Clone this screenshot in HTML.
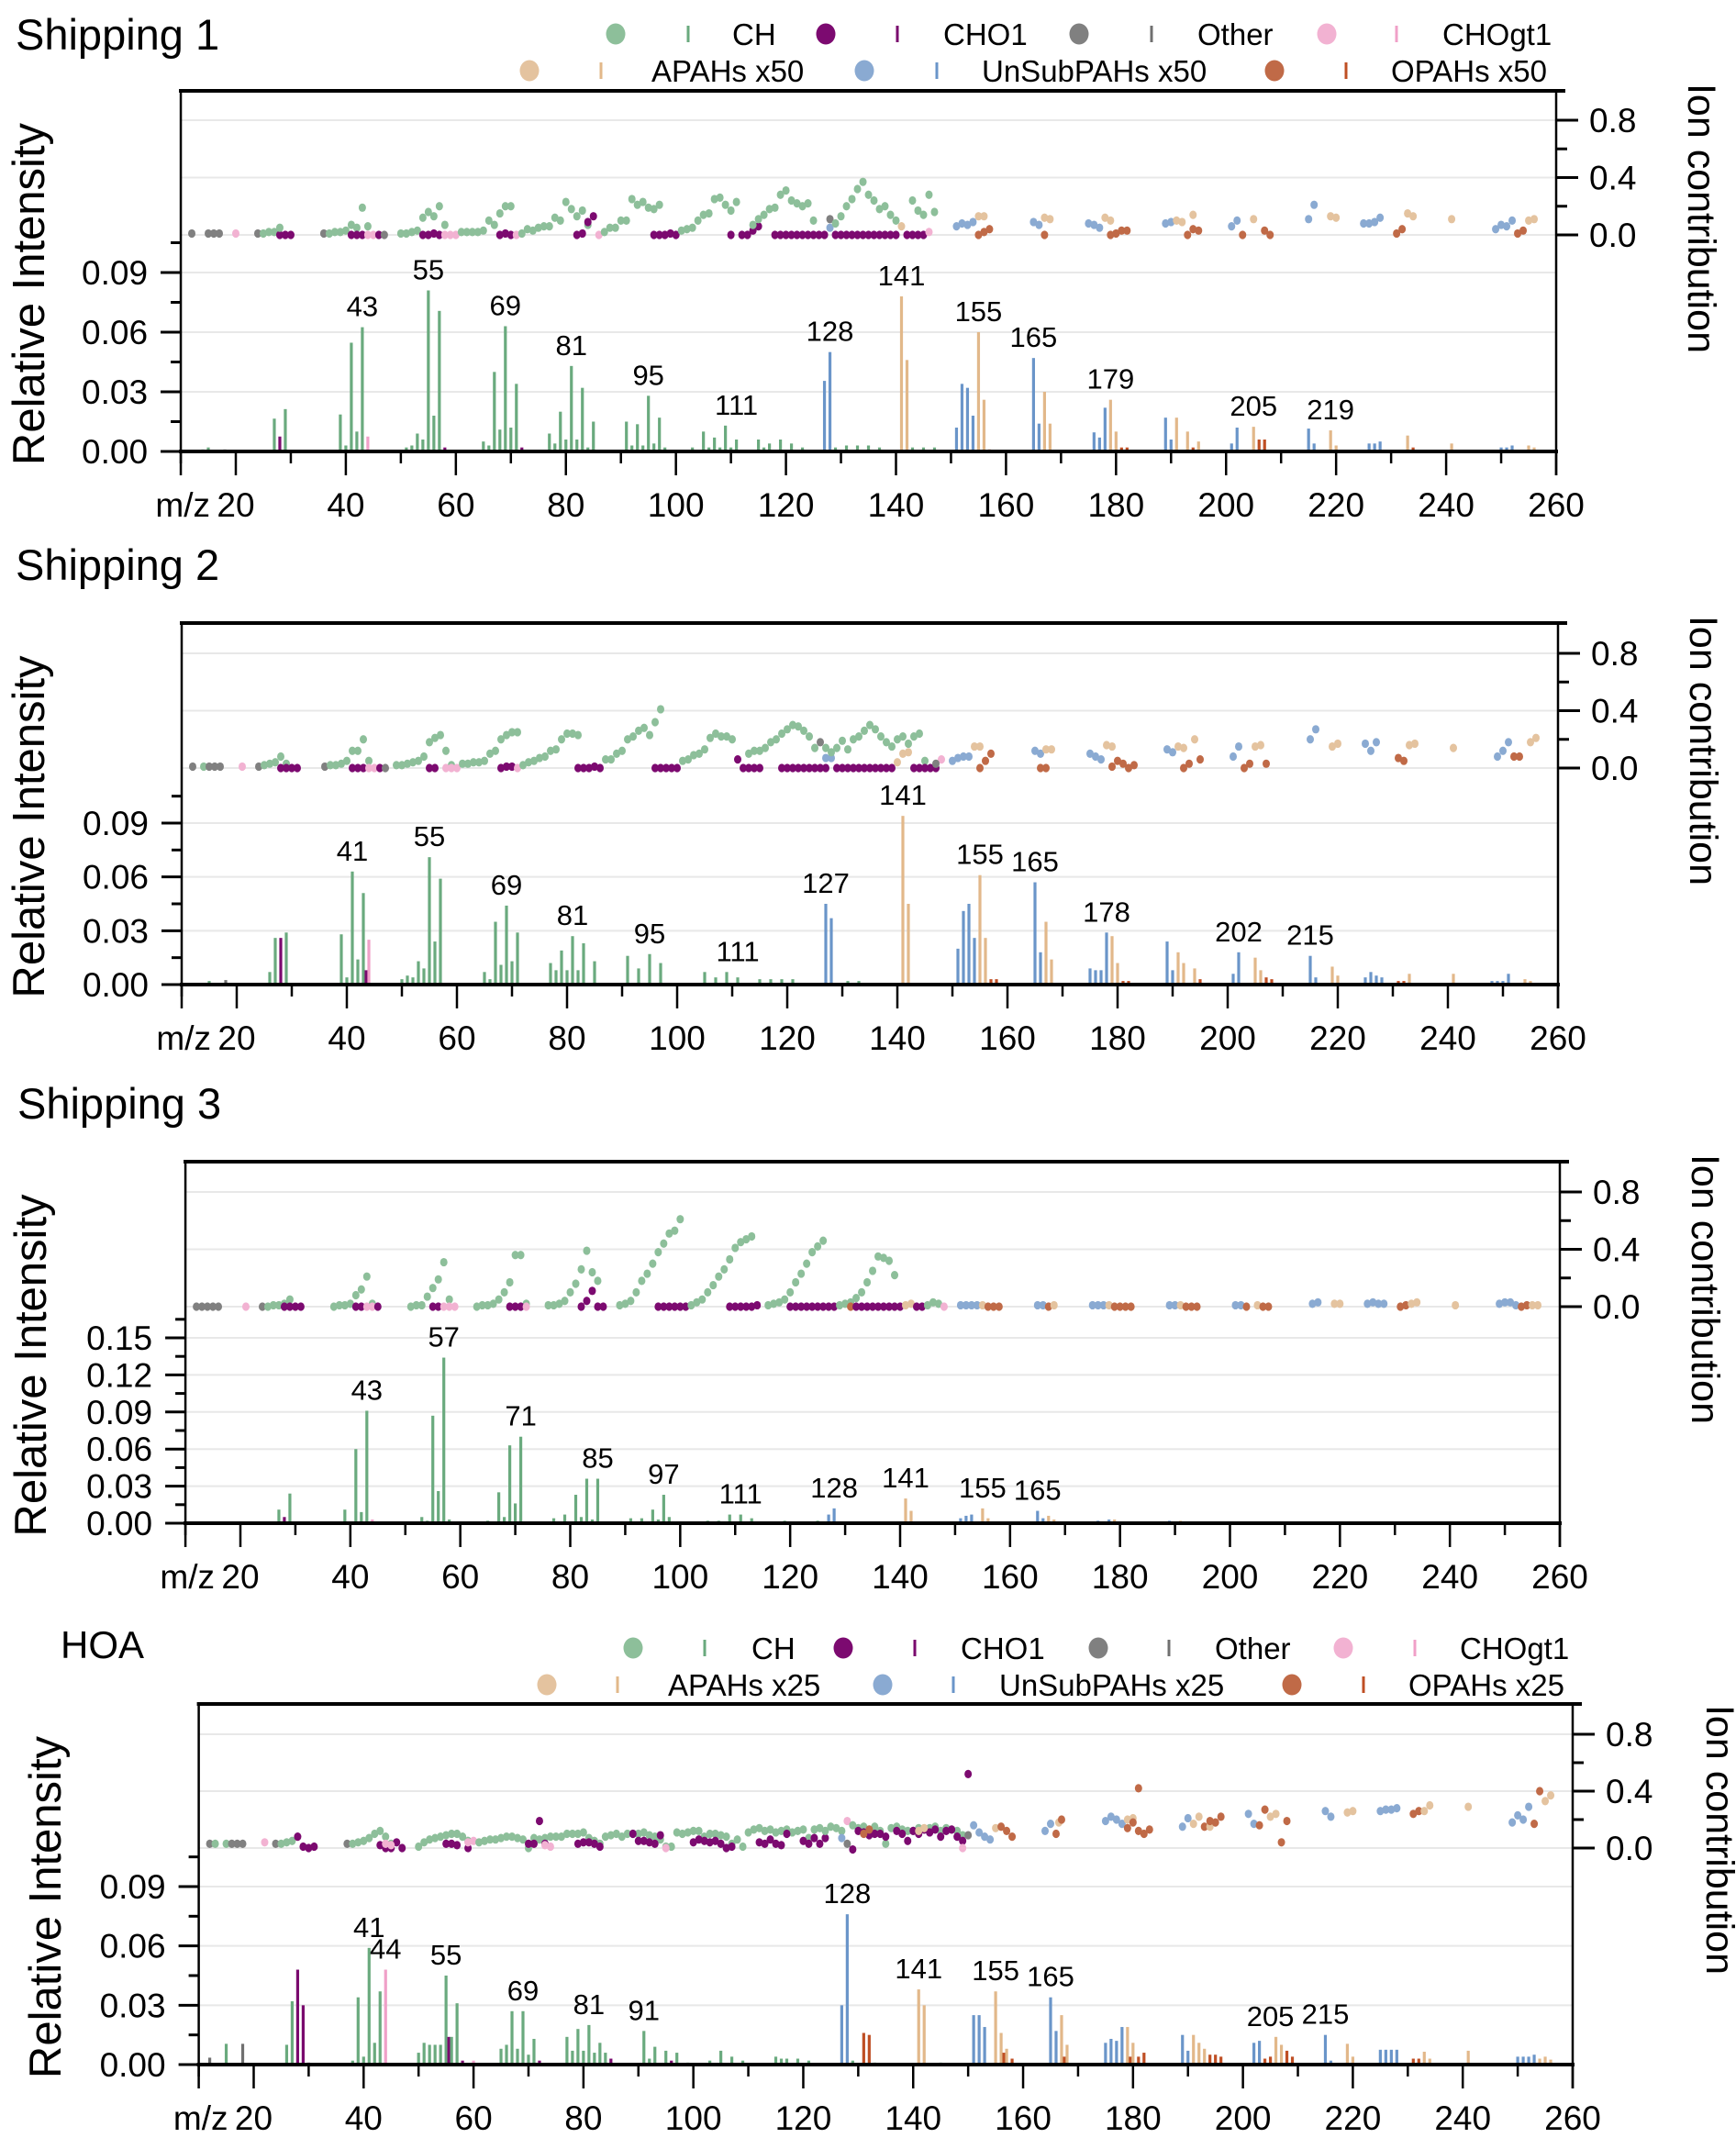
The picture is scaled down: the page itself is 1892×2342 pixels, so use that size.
<!DOCTYPE html>
<html><head><meta charset="utf-8"><title>Mass spectra profiles</title>
<style>
html,body{margin:0;padding:0;background:#fff;}
svg{display:block;font-family:"Liberation Sans",Arial,sans-serif;}
</style></head>
<body>
<svg id="chart" width="1892" height="2342" viewBox="0 0 1892 2342" xmlns="http://www.w3.org/2000/svg"></svg>
<script>
// ---------- categories ----------
const catKeys = ['CH','O1','OT','GT','AP','UN','OP'];
const barColors = {CH:'#6aaa7e',O1:'#7a0a6e',OT:'#707070',GT:'#f0a0c8',AP:'#e2b88a',UN:'#6a95c9',OP:'#bf4f24'};
const dotColors = {CH:'#8dbf9a',O1:'#7c0a70',OT:'#808080',GT:'#f2b2d2',AP:'#e4c39f',UN:'#8aaad2',OP:'#c06a47'};
const leftTicks1 = ['0.00','0.03','0.06','0.09'];
const leftTicks3 = ['0.00','0.03','0.06','0.09','0.12','0.15'];
const rightTicks = ['0.0','0.4','0.8'];
const xTicks = [20,40,60,80,100,120,140,160,180,200,220,240,260];

// ---------- Shipping 1 ----------
const s1Bars = [[14,0.001,'CH'],[15,0.002,'CH'],[18,0.001,'OT'],[27,0.0165,'CH'],[28,0.0075,'O1'],[29,0.0213,'CH'],[39,0.0186,'CH'],[40,0.003,'CH'],[41,0.0547,'CH'],[42,0.010,'CH'],[43,0.0625,'CH'],[44,0.0075,'GT'],[51,0.002,'CH'],[52,0.003,'CH'],[53,0.009,'CH'],[54,0.006,'CH'],[55,0.081,'CH'],[56,0.018,'CH'],[57,0.0707,'CH'],[58,0.002,'O1'],[65,0.005,'CH'],[66,0.003,'CH'],[67,0.040,'CH'],[68,0.011,'CH'],[69,0.063,'CH'],[70,0.012,'CH'],[71,0.034,'CH'],[72,0.002,'O1'],[77,0.009,'CH'],[78,0.004,'CH'],[79,0.020,'CH'],[80,0.006,'CH'],[81,0.043,'CH'],[82,0.006,'CH'],[83,0.032,'CH'],[84,0.002,'CH'],[85,0.015,'CH'],[91,0.015,'CH'],[92,0.003,'CH'],[93,0.0137,'CH'],[94,0.003,'CH'],[95,0.028,'CH'],[96,0.004,'CH'],[97,0.017,'CH'],[98,0.002,'CH'],[103,0.002,'CH'],[105,0.010,'CH'],[106,0.002,'CH'],[107,0.007,'CH'],[108,0.002,'CH'],[109,0.013,'CH'],[110,0.002,'CH'],[111,0.006,'CH'],[115,0.006,'CH'],[116,0.002,'CH'],[117,0.004,'CH'],[119,0.006,'CH'],[121,0.004,'CH'],[123,0.002,'CH'],[127,0.0355,'UN'],[128,0.050,'UN'],[129,0.002,'CH'],[131,0.003,'CH'],[133,0.003,'CH'],[135,0.003,'CH'],[137,0.002,'CH'],[141,0.078,'AP'],[142,0.046,'AP'],[143,0.002,'CH'],[145,0.002,'CH'],[147,0.002,'CH'],[151,0.012,'UN'],[152,0.034,'UN'],[153,0.032,'UN'],[154,0.018,'UN'],[155,0.060,'AP'],[156,0.026,'AP'],[157,0.001,'OP'],[165,0.047,'UN'],[166,0.014,'UN'],[167,0.030,'AP'],[168,0.014,'AP'],[176,0.0096,'UN'],[177,0.007,'UN'],[178,0.022,'UN'],[179,0.026,'AP'],[180,0.010,'AP'],[181,0.002,'OP'],[182,0.002,'OP'],[189,0.017,'UN'],[190,0.006,'UN'],[191,0.017,'AP'],[193,0.010,'AP'],[194,0.002,'OP'],[195,0.005,'AP'],[201,0.004,'UN'],[202,0.012,'UN'],[205,0.0124,'AP'],[206,0.006,'OP'],[207,0.006,'OP'],[215,0.0115,'UN'],[216,0.004,'UN'],[219,0.0106,'AP'],[220,0.003,'AP'],[226,0.004,'UN'],[227,0.004,'UN'],[228,0.005,'UN'],[233,0.008,'AP'],[234,0.002,'OP'],[241,0.004,'AP'],[250,0.002,'UN'],[251,0.002,'UN'],[252,0.003,'UN'],[255,0.003,'AP'],[256,0.002,'AP']];
const s1Points = [[12,0.01,'OT'],[15,0.01,'OT'],[16,0.01,'OT'],[17,0.01,'OT'],[20,0.01,'GT'],[24,0.01,'OT'],[25,0.01,'CH'],[26,0.02,'CH'],[27,0.02,'CH'],[28,0.0,'O1'],[29,0.0,'O1'],[30,0.0,'O1'],[28,0.05,'CH'],[36,0.01,'OT'],[37,0.01,'CH'],[38,0.02,'CH'],[39,0.02,'CH'],[40,0.03,'CH'],[41,0.07,'CH'],[42,0.05,'CH'],[43,0.19,'CH'],[44,0.06,'CH'],[41,0.0,'O1'],[42,0.0,'O1'],[43,0.0,'O1'],[44,0.0,'GT'],[45,0.0,'GT'],[46,0.0,'O1'],[47,0.0,'OT'],[50,0.01,'CH'],[51,0.01,'CH'],[52,0.02,'CH'],[53,0.03,'CH'],[54,0.12,'CH'],[55,0.16,'CH'],[56,0.13,'CH'],[57,0.2,'CH'],[58,0.07,'CH'],[54,0.0,'O1'],[55,0.0,'O1'],[56,0.01,'O1'],[57,0.0,'O1'],[58,0.0,'GT'],[59,0.0,'GT'],[60,0.0,'GT'],[61,0.02,'CH'],[62,0.02,'CH'],[63,0.02,'CH'],[64,0.02,'CH'],[65,0.03,'CH'],[66,0.1,'CH'],[67,0.07,'CH'],[68,0.15,'CH'],[69,0.2,'CH'],[70,0.2,'CH'],[68,0.0,'O1'],[69,0.01,'O1'],[70,0.0,'O1'],[71,0.0,'GT'],[72,0.01,'CH'],[73,0.04,'CH'],[74,0.03,'CH'],[75,0.05,'CH'],[76,0.06,'CH'],[77,0.06,'CH'],[78,0.12,'CH'],[79,0.1,'CH'],[80,0.23,'CH'],[81,0.18,'CH'],[82,0.13,'CH'],[83,0.17,'CH'],[84,0.07,'CH'],[82,0.0,'O1'],[83,0.01,'O1'],[84,0.09,'O1'],[85,0.13,'O1'],[86,0.0,'GT'],[87,0.02,'CH'],[88,0.05,'CH'],[89,0.05,'CH'],[90,0.1,'CH'],[91,0.1,'CH'],[92,0.25,'CH'],[93,0.21,'CH'],[94,0.23,'CH'],[95,0.19,'CH'],[96,0.18,'CH'],[97,0.21,'CH'],[96,0.0,'O1'],[97,0.0,'O1'],[98,0.0,'O1'],[99,0.01,'O1'],[100,0.0,'O1'],[101,0.03,'CH'],[102,0.04,'CH'],[103,0.05,'CH'],[104,0.1,'CH'],[105,0.14,'CH'],[106,0.15,'CH'],[107,0.25,'CH'],[108,0.26,'CH'],[109,0.21,'CH'],[110,0.17,'CH'],[111,0.23,'CH'],[110,0.0,'O1'],[112,0.0,'O1'],[113,0.0,'O1'],[114,0.03,'O1'],[115,0.06,'O1'],[114,0.07,'CH'],[115,0.11,'CH'],[116,0.14,'CH'],[117,0.18,'CH'],[118,0.19,'CH'],[119,0.28,'CH'],[120,0.31,'CH'],[121,0.24,'CH'],[122,0.22,'CH'],[123,0.2,'CH'],[124,0.22,'CH'],[125,0.1,'CH'],[118,0.0,'O1'],[119,0.0,'O1'],[120,0.0,'O1'],[121,0.0,'O1'],[122,0.0,'O1'],[123,0.0,'O1'],[124,0.0,'O1'],[125,0.0,'O1'],[126,0.0,'O1'],[127,0.0,'O1'],[128,0.11,'OT'],[128,0.05,'UN'],[129,0.08,'CH'],[130,0.13,'CH'],[131,0.2,'CH'],[132,0.25,'CH'],[133,0.32,'CH'],[134,0.37,'CH'],[135,0.28,'CH'],[136,0.24,'CH'],[137,0.18,'CH'],[138,0.2,'CH'],[139,0.14,'CH'],[140,0.1,'CH'],[129,0.0,'O1'],[130,0.0,'O1'],[131,0.0,'O1'],[132,0.0,'O1'],[133,0.0,'O1'],[134,0.0,'O1'],[135,0.0,'O1'],[136,0.0,'O1'],[137,0.0,'O1'],[138,0.0,'O1'],[139,0.0,'O1'],[140,0.0,'O1'],[141,0.06,'AP'],[142,0.0,'O1'],[143,0.0,'O1'],[144,0.0,'O1'],[145,0.0,'O1'],[146,0.02,'GT'],[143,0.24,'CH'],[144,0.17,'CH'],[145,0.14,'CH'],[146,0.28,'CH'],[147,0.16,'CH'],[151,0.06,'UN'],[152,0.08,'UN'],[153,0.07,'UN'],[154,0.09,'UN'],[155,0.13,'AP'],[156,0.13,'AP'],[155,0.0,'OP'],[156,0.02,'OP'],[157,0.04,'OP'],[165,0.09,'UN'],[166,0.07,'UN'],[167,0.12,'AP'],[168,0.11,'AP'],[167,0.0,'OP'],[175,0.08,'UN'],[176,0.07,'UN'],[177,0.05,'UN'],[178,0.12,'AP'],[179,0.1,'AP'],[179,0.0,'OP'],[180,0.01,'OP'],[181,0.03,'OP'],[182,0.03,'OP'],[189,0.08,'UN'],[190,0.09,'UN'],[191,0.1,'AP'],[192,0.09,'AP'],[194,0.14,'AP'],[193,0.0,'OP'],[194,0.04,'OP'],[195,0.03,'OP'],[201,0.06,'UN'],[202,0.1,'UN'],[205,0.11,'AP'],[203,0.0,'OP'],[207,0.03,'OP'],[208,0.0,'OP'],[215,0.11,'UN'],[216,0.21,'UN'],[219,0.13,'AP'],[220,0.12,'AP'],[225,0.08,'UN'],[226,0.08,'UN'],[227,0.09,'UN'],[228,0.12,'UN'],[231,0.01,'OP'],[232,0.04,'OP'],[233,0.15,'AP'],[234,0.13,'AP'],[241,0.11,'AP'],[249,0.04,'UN'],[250,0.07,'UN'],[251,0.06,'UN'],[252,0.1,'UN'],[253,0.01,'OP'],[254,0.03,'OP'],[255,0.1,'AP'],[256,0.11,'AP']];
const s1Labels = [43,55,69,81,95,111,128,141,155,165,179,205,219];

// ---------- Shipping 2 ----------
const s2Bars = [[15,0.002,'CH'],[18,0.0025,'OT'],[26,0.007,'CH'],[27,0.026,'CH'],[28,0.026,'O1'],[29,0.029,'CH'],[39,0.028,'CH'],[40,0.004,'CH'],[41,0.063,'CH'],[42,0.014,'CH'],[43,0.051,'CH'],[43.5,0.008,'O1'],[44,0.025,'GT'],[50,0.003,'CH'],[51,0.005,'CH'],[52,0.004,'CH'],[53,0.013,'CH'],[54,0.009,'CH'],[55,0.071,'CH'],[56,0.024,'CH'],[57,0.059,'CH'],[65,0.007,'CH'],[66,0.003,'CH'],[67,0.035,'CH'],[68,0.011,'CH'],[69,0.044,'CH'],[70,0.013,'CH'],[71,0.029,'CH'],[77,0.012,'CH'],[78,0.008,'CH'],[79,0.019,'CH'],[80,0.008,'CH'],[81,0.027,'CH'],[82,0.008,'CH'],[83,0.023,'CH'],[85,0.013,'CH'],[91,0.016,'CH'],[93,0.009,'CH'],[95,0.017,'CH'],[97,0.012,'CH'],[105,0.007,'CH'],[107,0.004,'CH'],[109,0.007,'CH'],[111,0.004,'CH'],[115,0.003,'CH'],[117,0.003,'CH'],[119,0.003,'CH'],[121,0.003,'CH'],[127,0.045,'UN'],[128,0.037,'UN'],[131,0.002,'CH'],[133,0.002,'CH'],[141,0.094,'AP'],[142,0.045,'AP'],[151,0.020,'UN'],[152,0.041,'UN'],[153,0.045,'UN'],[154,0.026,'UN'],[155,0.061,'AP'],[156,0.026,'AP'],[157,0.003,'OP'],[158,0.003,'OP'],[165,0.057,'UN'],[166,0.018,'UN'],[167,0.035,'AP'],[168,0.014,'AP'],[175,0.009,'UN'],[176,0.008,'UN'],[177,0.008,'UN'],[178,0.029,'UN'],[179,0.027,'AP'],[180,0.012,'AP'],[181,0.002,'OP'],[182,0.002,'OP'],[189,0.024,'UN'],[190,0.008,'UN'],[191,0.018,'AP'],[192,0.012,'AP'],[194,0.009,'AP'],[195,0.003,'OP'],[201,0.006,'UN'],[202,0.018,'UN'],[205,0.015,'AP'],[206,0.008,'AP'],[207,0.004,'OP'],[208,0.003,'OP'],[215,0.016,'UN'],[216,0.004,'UN'],[219,0.010,'AP'],[220,0.005,'AP'],[225,0.004,'UN'],[226,0.007,'UN'],[227,0.005,'UN'],[228,0.004,'UN'],[231,0.002,'OP'],[232,0.002,'OP'],[233,0.006,'AP'],[241,0.006,'AP'],[248,0.002,'UN'],[249,0.002,'UN'],[250,0.002,'UN'],[251,0.006,'UN'],[254,0.003,'AP'],[255,0.002,'AP']];
const s2Points = [[12,0.01,'OT'],[14,0.01,'CH'],[15,0.01,'OT'],[16,0.01,'OT'],[17,0.01,'OT'],[21,0.01,'GT'],[24,0.01,'OT'],[25,0.02,'CH'],[26,0.03,'CH'],[27,0.04,'CH'],[28,0.08,'CH'],[29,0.03,'CH'],[28,0.0,'O1'],[29,0.0,'O1'],[30,0.0,'O1'],[31,0.0,'O1'],[36,0.01,'OT'],[37,0.02,'CH'],[38,0.02,'CH'],[39,0.03,'CH'],[40,0.05,'CH'],[41,0.12,'CH'],[42,0.12,'CH'],[43,0.2,'CH'],[44,0.05,'CH'],[41,0.0,'O1'],[42,0.0,'O1'],[43,0.0,'O1'],[44,0.0,'GT'],[45,0.0,'GT'],[46,0.0,'O1'],[47,0.0,'OT'],[49,0.02,'CH'],[50,0.02,'CH'],[51,0.03,'CH'],[52,0.04,'CH'],[53,0.05,'CH'],[54,0.08,'CH'],[55,0.18,'CH'],[56,0.21,'CH'],[57,0.23,'CH'],[58,0.12,'CH'],[59,0.02,'CH'],[55,0.0,'O1'],[56,0.0,'O1'],[58,0.0,'GT'],[59,0.0,'GT'],[60,0.0,'GT'],[61,0.03,'CH'],[62,0.03,'CH'],[63,0.04,'CH'],[64,0.04,'CH'],[65,0.05,'CH'],[66,0.1,'CH'],[67,0.12,'CH'],[68,0.2,'CH'],[69,0.23,'CH'],[70,0.25,'CH'],[71,0.25,'CH'],[68,0.0,'O1'],[69,0.01,'O1'],[70,0.01,'O1'],[71,0.0,'GT'],[72,0.02,'CH'],[73,0.04,'CH'],[74,0.05,'CH'],[75,0.07,'CH'],[76,0.08,'CH'],[77,0.12,'CH'],[78,0.13,'CH'],[79,0.2,'CH'],[80,0.24,'CH'],[81,0.24,'CH'],[82,0.23,'CH'],[82,0.0,'O1'],[83,0.0,'O1'],[84,0.0,'O1'],[85,0.01,'O1'],[86,0.0,'O1'],[87,0.06,'CH'],[88,0.06,'CH'],[89,0.1,'CH'],[90,0.12,'CH'],[91,0.2,'CH'],[92,0.22,'CH'],[93,0.26,'CH'],[94,0.28,'CH'],[95,0.23,'CH'],[96,0.32,'CH'],[97,0.41,'CH'],[96,0.0,'O1'],[97,0.0,'O1'],[98,0.0,'O1'],[99,0.0,'O1'],[100,0.0,'O1'],[101,0.05,'CH'],[102,0.06,'CH'],[103,0.09,'CH'],[104,0.1,'CH'],[105,0.13,'CH'],[106,0.21,'CH'],[107,0.24,'CH'],[108,0.22,'CH'],[109,0.22,'CH'],[110,0.2,'CH'],[111,0.06,'O1'],[112,0.0,'O1'],[113,0.0,'O1'],[114,0.0,'O1'],[115,0.0,'O1'],[113,0.1,'CH'],[114,0.12,'CH'],[115,0.12,'CH'],[116,0.14,'CH'],[117,0.18,'CH'],[118,0.2,'CH'],[119,0.24,'CH'],[120,0.27,'CH'],[121,0.3,'CH'],[122,0.29,'CH'],[123,0.26,'CH'],[124,0.22,'CH'],[125,0.14,'CH'],[119,0.0,'O1'],[120,0.0,'O1'],[121,0.0,'O1'],[122,0.0,'O1'],[123,0.0,'O1'],[124,0.0,'O1'],[125,0.0,'O1'],[126,0.0,'O1'],[127,0.0,'O1'],[127,0.07,'UN'],[128,0.07,'UN'],[126,0.18,'OT'],[127,0.14,'CH'],[128,0.11,'CH'],[129,0.14,'CH'],[130,0.19,'CH'],[131,0.13,'CH'],[132,0.2,'CH'],[133,0.22,'CH'],[134,0.26,'CH'],[135,0.3,'CH'],[136,0.27,'CH'],[137,0.22,'CH'],[138,0.18,'CH'],[139,0.15,'CH'],[140,0.2,'CH'],[141,0.22,'CH'],[142,0.17,'CH'],[143,0.22,'CH'],[144,0.24,'CH'],[145,0.05,'CH'],[129,0.0,'O1'],[130,0.0,'O1'],[131,0.0,'O1'],[132,0.0,'O1'],[133,0.0,'O1'],[134,0.0,'O1'],[135,0.0,'O1'],[136,0.0,'O1'],[137,0.0,'O1'],[138,0.0,'O1'],[139,0.0,'O1'],[140,0.04,'AP'],[141,0.1,'AP'],[142,0.11,'AP'],[143,0.0,'O1'],[144,0.0,'O1'],[145,0.0,'O1'],[146,0.0,'O1'],[147,0.0,'O1'],[148,0.06,'GT'],[147,0.03,'OT'],[150,0.05,'UN'],[151,0.07,'UN'],[152,0.08,'UN'],[153,0.08,'UN'],[154,0.15,'AP'],[155,0.15,'AP'],[155,0.0,'OP'],[156,0.05,'OP'],[157,0.1,'OP'],[165,0.12,'UN'],[166,0.1,'UN'],[167,0.13,'AP'],[168,0.13,'AP'],[166,0.0,'OP'],[167,0.0,'OP'],[175,0.1,'UN'],[176,0.08,'UN'],[177,0.06,'UN'],[178,0.16,'AP'],[179,0.15,'AP'],[179,0.01,'OP'],[180,0.05,'OP'],[181,0.03,'OP'],[182,0.0,'OP'],[183,0.02,'OP'],[189,0.13,'UN'],[190,0.11,'UN'],[191,0.15,'AP'],[192,0.14,'AP'],[194,0.2,'AP'],[192,0.0,'OP'],[193,0.03,'OP'],[195,0.06,'OP'],[201,0.08,'UN'],[202,0.15,'UN'],[205,0.15,'AP'],[206,0.16,'AP'],[203,0.0,'OP'],[204,0.03,'OP'],[207,0.03,'OP'],[215,0.2,'UN'],[216,0.27,'UN'],[219,0.15,'AP'],[220,0.17,'AP'],[225,0.17,'UN'],[226,0.12,'UN'],[227,0.18,'UN'],[231,0.07,'OP'],[232,0.05,'OP'],[233,0.16,'AP'],[234,0.17,'AP'],[241,0.14,'AP'],[249,0.08,'UN'],[250,0.12,'UN'],[251,0.18,'UN'],[252,0.08,'OP'],[253,0.08,'OP'],[255,0.18,'AP'],[256,0.21,'AP']];
const s2Labels = [41,55,69,81,95,111,127,141,155,165,178,202,215];

// ---------- Shipping 3 ----------
const s3Bars = [[15,0.001,'CH'],[27,0.011,'CH'],[28,0.005,'O1'],[29,0.024,'CH'],[39,0.011,'CH'],[41,0.060,'CH'],[42,0.009,'CH'],[43,0.091,'CH'],[44,0.003,'GT'],[53,0.005,'CH'],[54,0.002,'CH'],[55,0.087,'CH'],[56,0.026,'CH'],[57,0.134,'CH'],[58,0.003,'CH'],[65,0.002,'CH'],[67,0.025,'CH'],[68,0.005,'CH'],[69,0.063,'CH'],[70,0.016,'CH'],[71,0.070,'CH'],[77,0.004,'CH'],[79,0.007,'CH'],[81,0.023,'CH'],[82,0.005,'CH'],[83,0.036,'CH'],[84,0.003,'CH'],[85,0.036,'CH'],[91,0.004,'CH'],[93,0.004,'CH'],[95,0.011,'CH'],[96,0.003,'CH'],[97,0.023,'CH'],[98,0.005,'CH'],[105,0.002,'CH'],[107,0.002,'CH'],[109,0.007,'CH'],[111,0.007,'CH'],[113,0.004,'CH'],[119,0.002,'CH'],[125,0.002,'CH'],[127,0.007,'UN'],[128,0.012,'UN'],[141,0.020,'AP'],[142,0.010,'AP'],[151,0.004,'UN'],[152,0.006,'UN'],[153,0.007,'UN'],[155,0.012,'AP'],[156,0.004,'AP'],[165,0.010,'UN'],[166,0.004,'UN'],[167,0.006,'AP'],[168,0.003,'AP'],[176,0.002,'UN'],[178,0.003,'UN'],[179,0.003,'AP'],[189,0.002,'UN'],[191,0.002,'AP'],[202,0.001,'UN'],[205,0.001,'AP'],[215,0.001,'UN'],[233,0.001,'AP'],[251,0.001,'UN']];
const s3Points = [[12,0.0,'OT'],[13,0.0,'OT'],[14,0.0,'OT'],[15,0.0,'OT'],[16,0.0,'OT'],[21,0.0,'GT'],[24,0.0,'OT'],[25,0.0,'CH'],[26,0.01,'CH'],[27,0.01,'CH'],[28,0.02,'CH'],[29,0.05,'CH'],[28,0.0,'O1'],[29,0.0,'O1'],[30,0.0,'O1'],[31,0.0,'O1'],[37,0.0,'CH'],[38,0.01,'CH'],[39,0.01,'CH'],[40,0.02,'CH'],[41,0.08,'CH'],[42,0.12,'CH'],[43,0.21,'CH'],[44,0.02,'CH'],[41,0.0,'O1'],[42,0.0,'O1'],[43,0.0,'GT'],[44,0.0,'GT'],[45,0.0,'O1'],[51,0.0,'CH'],[52,0.01,'CH'],[53,0.01,'CH'],[54,0.07,'CH'],[55,0.13,'CH'],[56,0.19,'CH'],[57,0.31,'CH'],[58,0.05,'CH'],[55,0.0,'O1'],[56,0.0,'O1'],[57,0.0,'GT'],[58,0.0,'GT'],[59,0.0,'GT'],[63,0.0,'CH'],[64,0.01,'CH'],[65,0.01,'CH'],[66,0.02,'CH'],[67,0.05,'CH'],[68,0.1,'CH'],[69,0.17,'CH'],[70,0.36,'CH'],[71,0.36,'CH'],[72,0.02,'CH'],[69,0.0,'O1'],[70,0.0,'O1'],[71,0.0,'O1'],[72,0.0,'GT'],[76,0.01,'CH'],[77,0.01,'CH'],[78,0.02,'CH'],[79,0.04,'CH'],[80,0.1,'CH'],[81,0.16,'CH'],[82,0.26,'CH'],[83,0.39,'CH'],[84,0.24,'CH'],[85,0.18,'CH'],[82,0.0,'O1'],[83,0.04,'O1'],[84,0.11,'O1'],[85,0.0,'O1'],[86,0.0,'O1'],[89,0.01,'CH'],[90,0.02,'CH'],[91,0.04,'CH'],[92,0.1,'CH'],[93,0.18,'CH'],[94,0.23,'CH'],[95,0.3,'CH'],[96,0.38,'CH'],[97,0.44,'CH'],[98,0.51,'CH'],[99,0.53,'CH'],[100,0.61,'CH'],[96,0.0,'O1'],[97,0.0,'O1'],[98,0.0,'O1'],[99,0.0,'O1'],[100,0.0,'O1'],[101,0.0,'O1'],[102,0.01,'CH'],[103,0.03,'CH'],[104,0.05,'CH'],[105,0.1,'CH'],[106,0.15,'CH'],[107,0.21,'CH'],[108,0.26,'CH'],[109,0.33,'CH'],[110,0.41,'CH'],[111,0.45,'CH'],[112,0.47,'CH'],[113,0.49,'CH'],[109,0.0,'O1'],[110,0.0,'O1'],[111,0.0,'O1'],[112,0.0,'O1'],[113,0.0,'O1'],[114,0.01,'O1'],[116,0.01,'CH'],[117,0.02,'CH'],[118,0.03,'CH'],[119,0.05,'CH'],[120,0.1,'CH'],[121,0.17,'CH'],[122,0.23,'CH'],[123,0.3,'CH'],[124,0.38,'CH'],[125,0.42,'CH'],[126,0.46,'CH'],[120,0.0,'O1'],[121,0.0,'O1'],[122,0.0,'O1'],[123,0.0,'O1'],[124,0.0,'O1'],[125,0.0,'O1'],[126,0.0,'O1'],[127,0.0,'O1'],[128,0.0,'O1'],[129,0.01,'CH'],[130,0.02,'CH'],[131,0.03,'CH'],[132,0.06,'CH'],[133,0.1,'CH'],[134,0.17,'CH'],[135,0.25,'CH'],[136,0.35,'CH'],[137,0.34,'CH'],[138,0.32,'CH'],[139,0.22,'CH'],[131,0.0,'OP'],[132,0.0,'O1'],[133,0.0,'O1'],[134,0.0,'O1'],[135,0.0,'O1'],[136,0.0,'O1'],[137,0.0,'O1'],[138,0.0,'O1'],[139,0.0,'O1'],[140,0.0,'O1'],[141,0.01,'AP'],[142,0.02,'AP'],[143,0.0,'O1'],[144,0.0,'O1'],[145,0.01,'CH'],[146,0.03,'CH'],[147,0.02,'CH'],[148,0.0,'GT'],[151,0.01,'UN'],[152,0.01,'UN'],[153,0.01,'UN'],[154,0.01,'UN'],[155,0.01,'AP'],[156,0.0,'OP'],[157,0.0,'OP'],[158,0.0,'OP'],[165,0.01,'UN'],[166,0.01,'UN'],[167,0.0,'OP'],[168,0.01,'AP'],[175,0.01,'UN'],[176,0.01,'UN'],[177,0.01,'UN'],[178,0.01,'AP'],[179,0.0,'OP'],[180,0.0,'OP'],[181,0.0,'OP'],[182,0.0,'OP'],[189,0.01,'UN'],[190,0.01,'UN'],[191,0.01,'AP'],[192,0.0,'OP'],[193,0.0,'OP'],[194,0.0,'OP'],[201,0.01,'UN'],[202,0.01,'UN'],[203,0.0,'OP'],[205,0.01,'AP'],[206,0.0,'OP'],[207,0.0,'OP'],[215,0.02,'UN'],[216,0.03,'UN'],[219,0.02,'AP'],[220,0.02,'AP'],[225,0.02,'UN'],[226,0.03,'UN'],[227,0.02,'UN'],[228,0.02,'UN'],[231,0.0,'OP'],[232,0.01,'OP'],[233,0.02,'AP'],[234,0.03,'AP'],[241,0.01,'AP'],[249,0.02,'UN'],[250,0.03,'UN'],[251,0.03,'UN'],[252,0.01,'UN'],[253,0.0,'OP'],[254,0.01,'OP'],[255,0.01,'AP'],[256,0.01,'AP']];
const s3Labels = [43,57,71,85,97,111,128,141,155,165];

// ---------- HOA ----------
const hoaBars = [[12,0.0035,'OT'],[15,0.0105,'CH'],[18,0.0105,'OT'],[26,0.010,'CH'],[27,0.032,'CH'],[28,0.048,'O1'],[29,0.030,'O1'],[30,0.001,'O1'],[38,0.002,'CH'],[39,0.034,'CH'],[40,0.004,'CH'],[41,0.059,'CH'],[42,0.011,'CH'],[43,0.037,'CH'],[44,0.048,'GT'],[50,0.006,'CH'],[51,0.011,'CH'],[52,0.010,'CH'],[53,0.010,'CH'],[54,0.010,'CH'],[55,0.045,'CH'],[55.5,0.014,'O1'],[56,0.014,'CH'],[57,0.031,'CH'],[58,0.002,'O1'],[60,0.002,'GT'],[65,0.008,'CH'],[66,0.010,'CH'],[67,0.027,'CH'],[68,0.008,'CH'],[69,0.027,'CH'],[70,0.005,'CH'],[71,0.013,'CH'],[72,0.002,'O1'],[77,0.014,'CH'],[78,0.007,'CH'],[79,0.018,'CH'],[80,0.007,'CH'],[81,0.020,'CH'],[82,0.006,'CH'],[83,0.011,'CH'],[84,0.006,'CH'],[85,0.003,'O1'],[91,0.017,'CH'],[92,0.003,'CH'],[93,0.009,'CH'],[95,0.007,'CH'],[96,0.002,'O1'],[97,0.006,'CH'],[99,0.001,'CH'],[103,0.002,'CH'],[105,0.007,'CH'],[107,0.004,'CH'],[109,0.002,'CH'],[115,0.004,'CH'],[116,0.003,'CH'],[117,0.003,'CH'],[119,0.003,'CH'],[121,0.002,'CH'],[127,0.030,'UN'],[128,0.076,'UN'],[129,0.002,'CH'],[131,0.016,'OP'],[132,0.015,'OP'],[133,0.001,'CH'],[141,0.038,'AP'],[142,0.030,'AP'],[145,0.001,'CH'],[151,0.025,'UN'],[152,0.025,'UN'],[153,0.019,'UN'],[155,0.037,'AP'],[156,0.016,'AP'],[156.5,0.006,'OP'],[157,0.008,'AP'],[158,0.003,'OP'],[165,0.034,'UN'],[166,0.017,'UN'],[167,0.025,'AP'],[167.5,0.004,'OP'],[168,0.010,'AP'],[175,0.011,'UN'],[176,0.013,'UN'],[177,0.012,'UN'],[178,0.019,'UN'],[179,0.019,'AP'],[179.5,0.004,'OP'],[180,0.011,'AP'],[181,0.004,'OP'],[182,0.006,'OP'],[189,0.015,'UN'],[190,0.007,'UN'],[191,0.015,'AP'],[192,0.011,'AP'],[193,0.008,'AP'],[194,0.005,'OP'],[195,0.005,'OP'],[196,0.004,'OP'],[202,0.011,'UN'],[203,0.012,'UN'],[204,0.003,'OP'],[205,0.004,'OP'],[206,0.014,'AP'],[207,0.010,'AP'],[208,0.007,'OP'],[209,0.004,'OP'],[215,0.015,'UN'],[216,0.002,'UN'],[219,0.0105,'AP'],[220,0.004,'AP'],[225,0.0075,'UN'],[226,0.0075,'UN'],[227,0.0075,'UN'],[228,0.0075,'UN'],[231,0.003,'OP'],[232,0.003,'OP'],[233,0.0065,'AP'],[234,0.003,'AP'],[241,0.007,'AP'],[250,0.004,'UN'],[251,0.004,'UN'],[252,0.004,'UN'],[253,0.005,'UN'],[254,0.003,'AP'],[255,0.004,'AP'],[256,0.0025,'AP']];
const hoaPoints = [[12,0.03,'OT'],[13,0.03,'CH'],[15,0.03,'CH'],[16,0.03,'OT'],[17,0.03,'OT'],[18,0.03,'OT'],[22,0.04,'GT'],[24,0.03,'OT'],[25,0.03,'CH'],[26,0.04,'CH'],[27,0.05,'CH'],[28,0.08,'O1'],[29,0.01,'O1'],[30,0.0,'O1'],[31,0.01,'O1'],[37,0.03,'OT'],[38,0.03,'CH'],[39,0.04,'CH'],[40,0.05,'CH'],[41,0.07,'CH'],[42,0.1,'CH'],[43,0.12,'CH'],[44,0.08,'CH'],[45,0.03,'CH'],[43,0.02,'O1'],[44,0.0,'O1'],[45,0.0,'O1'],[46,0.04,'O1'],[47,0.0,'O1'],[44,0.03,'GT'],[45,0.02,'GT'],[50,0.01,'CH'],[51,0.04,'CH'],[52,0.06,'CH'],[53,0.07,'CH'],[54,0.08,'CH'],[55,0.09,'CH'],[56,0.1,'CH'],[57,0.1,'CH'],[58,0.08,'CH'],[59,0.05,'CH'],[55,0.03,'O1'],[56,0.03,'O1'],[57,0.02,'O1'],[59,0.0,'O1'],[59,0.04,'GT'],[60,0.05,'GT'],[61,0.04,'CH'],[62,0.05,'CH'],[63,0.06,'CH'],[64,0.06,'CH'],[65,0.07,'CH'],[66,0.08,'CH'],[67,0.08,'CH'],[68,0.07,'CH'],[69,0.06,'CH'],[70,0.0,'CH'],[71,0.07,'CH'],[72,0.06,'CH'],[73,0.07,'CH'],[74,0.08,'CH'],[75,0.08,'CH'],[76,0.08,'CH'],[77,0.1,'CH'],[78,0.1,'CH'],[79,0.1,'CH'],[80,0.11,'CH'],[70,0.03,'O1'],[71,0.03,'O1'],[72,0.19,'O1'],[73,0.03,'O1'],[73,0.02,'GT'],[74,0.01,'GT'],[81,0.07,'CH'],[82,0.05,'CH'],[83,0.03,'CH'],[84,0.08,'CH'],[85,0.09,'CH'],[86,0.1,'CH'],[87,0.08,'CH'],[88,0.1,'CH'],[89,0.1,'CH'],[90,0.1,'CH'],[91,0.11,'CH'],[92,0.09,'CH'],[93,0.08,'CH'],[94,0.06,'CH'],[95,0.01,'CH'],[96,0.01,'CH'],[79,0.03,'O1'],[80,0.04,'O1'],[81,0.04,'O1'],[82,0.03,'O1'],[83,0.01,'O1'],[89,0.1,'O1'],[90,0.05,'O1'],[91,0.05,'O1'],[92,0.04,'O1'],[93,0.03,'O1'],[94,0.09,'O1'],[95,0.0,'GT'],[97,0.11,'CH'],[98,0.1,'CH'],[99,0.11,'CH'],[100,0.12,'CH'],[101,0.12,'CH'],[102,0.08,'CH'],[103,0.1,'CH'],[104,0.1,'CH'],[105,0.09,'CH'],[106,0.08,'CH'],[107,0.03,'CH'],[108,0.06,'CH'],[109,0.01,'CH'],[100,0.04,'O1'],[101,0.06,'O1'],[102,0.05,'O1'],[103,0.04,'O1'],[104,0.05,'O1'],[105,0.03,'O1'],[106,0.0,'O1'],[107,0.01,'O1'],[110,0.11,'CH'],[111,0.13,'CH'],[112,0.14,'CH'],[113,0.12,'CH'],[114,0.13,'CH'],[115,0.11,'CH'],[116,0.12,'CH'],[117,0.13,'CH'],[118,0.11,'CH'],[119,0.12,'CH'],[120,0.13,'CH'],[121,0.07,'CH'],[112,0.04,'O1'],[113,0.03,'O1'],[114,0.06,'O1'],[115,0.03,'O1'],[116,0.02,'O1'],[117,0.1,'O1'],[120,0.05,'O1'],[121,0.03,'O1'],[122,0.07,'O1'],[123,0.03,'O1'],[124,0.07,'O1'],[122,0.13,'CH'],[123,0.14,'CH'],[124,0.12,'CH'],[125,0.15,'CH'],[126,0.14,'CH'],[127,0.12,'CH'],[127,0.07,'UN'],[128,0.19,'GT'],[128,0.03,'OT'],[129,-0.01,'O1'],[129,0.16,'CH'],[130,0.14,'CH'],[131,0.15,'CH'],[132,0.13,'CH'],[133,0.15,'CH'],[134,0.12,'CH'],[135,0.03,'CH'],[130,0.12,'O1'],[131,0.11,'O1'],[132,0.09,'O1'],[133,0.1,'O1'],[134,0.1,'O1'],[135,0.08,'O1'],[131,0.1,'OP'],[132,0.13,'OP'],[136,0.14,'CH'],[137,0.15,'CH'],[138,0.13,'CH'],[139,0.12,'CH'],[140,0.12,'CH'],[141,0.14,'CH'],[142,0.13,'CH'],[143,0.14,'CH'],[144,0.15,'CH'],[145,0.12,'CH'],[146,0.14,'CH'],[147,0.13,'CH'],[148,0.12,'CH'],[149,0.09,'CH'],[137,0.12,'O1'],[138,0.1,'O1'],[139,0.05,'O1'],[140,0.12,'O1'],[141,0.1,'O1'],[142,0.13,'O1'],[143,0.11,'O1'],[144,0.13,'O1'],[145,0.08,'O1'],[146,0.12,'O1'],[147,0.13,'O1'],[148,0.08,'O1'],[149,0.05,'O1'],[150,0.52,'O1'],[141,0.12,'AP'],[142,0.14,'AP'],[149,0.0,'GT'],[150,0.09,'OT'],[151,0.16,'UN'],[152,0.11,'UN'],[153,0.08,'UN'],[154,0.06,'UN'],[155,0.14,'AP'],[156,0.15,'OP'],[157,0.12,'OP'],[158,0.08,'OP'],[164,0.12,'UN'],[165,0.17,'UN'],[166,0.1,'OP'],[166.5,0.18,'AP'],[167,0.2,'OP'],[175,0.19,'UN'],[176,0.22,'UN'],[177,0.2,'UN'],[178,0.17,'UN'],[179,0.2,'AP'],[179,0.14,'OP'],[180,0.21,'AP'],[180,0.18,'OP'],[181,0.42,'OP'],[181,0.12,'OP'],[182,0.1,'OP'],[183,0.13,'OP'],[189,0.15,'UN'],[190,0.21,'UN'],[191,0.17,'AP'],[192,0.22,'AP'],[193,0.15,'OP'],[194,0.15,'AP'],[194,0.19,'OP'],[195,0.18,'OP'],[196,0.22,'OP'],[201,0.24,'UN'],[202,0.17,'UN'],[203,0.16,'OP'],[204,0.27,'OP'],[205,0.22,'AP'],[206,0.24,'AP'],[207,0.04,'OP'],[208,0.19,'OP'],[215,0.26,'UN'],[216,0.22,'UN'],[219,0.25,'AP'],[220,0.26,'AP'],[225,0.26,'UN'],[226,0.27,'UN'],[227,0.27,'UN'],[228,0.28,'UN'],[231,0.24,'OP'],[232,0.26,'OP'],[233,0.26,'AP'],[234,0.3,'AP'],[241,0.29,'AP'],[249,0.18,'UN'],[250,0.23,'UN'],[251,0.2,'UN'],[252,0.29,'UN'],[253,0.17,'OP'],[254,0.4,'OP'],[255,0.33,'AP'],[256,0.37,'AP']];
const hoaLabels = [41,44,55,69,81,91,128,141,155,165,205,215];

// ---------- drawing ----------
const NS = 'http://www.w3.org/2000/svg';
const svg = document.getElementById('chart');
function mk(tag, attrs, parent, txt) {
  const e = document.createElementNS(NS, tag);
  for (const k in attrs) e.setAttribute(k, attrs[k]);
  if (txt !== undefined) e.textContent = txt;
  (parent || svg).appendChild(e);
  return e;
}
const FONT = '"Liberation Sans", Arial, sans-serif';

function drawPanel(g, bars, points, labels, leftTicks, tickStep, name) {
  const grp = mk('g', {});
  
  
  const k = (g.x260 - g.x20) / 240;
  const xs = mz => g.x20 + (mz - 20) * k;
  const L = xs(10), R = xs(260);
  const yb = v => g.bz - v * g.bs;
  const yi = v => g.iz - v * g.is;
  const grid = mk('g', {}, grp);
  
  
  for (let i = 1; i < leftTicks.length; i++) {
    mk('line', {x1: L, x2: R, y1: yb(i * tickStep), y2: yb(i * tickStep), stroke: '#e8e8e8', 'stroke-width': 2}, grid);
  }
  for (let i = 0; i < rightTicks.length; i++) {
    mk('line', {x1: L, x2: R, y1: yi(parseFloat(rightTicks[i])), y2: yi(parseFloat(rightTicks[i])), stroke: '#e8e8e8', 'stroke-width': 2}, grid);
  }
  const bg = mk('g', {}, grp);
  
  
  bars.forEach(b => {
    const r = mk('rect', {x: xs(b[0]) - 1.6, y: yb(b[1]), width: 3.2, height: Math.max(0.5, b[1] * g.bs), fill: barColors[b[2]]}, bg);
    
    
  });
  const pg = mk('g', {}, grp);
  
  
  points.forEach(p => {
    const c = mk('ellipse', {cx: xs(p[0]), cy: yi(p[1]), rx: 4, ry: 4.6, fill: dotColors[p[2]]}, pg);
    
    
  });
  const fr = mk('g', {stroke: '#000', fill: 'none'}, grp);
  
  
  mk('line', {x1: L - 2, x2: R + 10, y1: g.top, y2: g.top, 'stroke-width': 4}, fr);
  mk('line', {x1: L - 2, x2: R + 2, y1: g.bz, y2: g.bz, 'stroke-width': 4}, fr);
  mk('line', {x1: L, x2: L, y1: g.top, y2: g.bz + 26, 'stroke-width': 2.5}, fr);
  mk('line', {x1: R, x2: R, y1: g.top, y2: g.bz + 26, 'stroke-width': 2.5}, fr);
  const xa = mk('g', {}, grp);
  
  
  for (let m = 10; m <= 260; m += 10) {
    const major = (m % 20 === 0);
    mk('line', {x1: xs(m), x2: xs(m), y1: g.bz, y2: g.bz + (major ? 26 : 13), stroke: '#000', 'stroke-width': 2.5}, xa);
  }
  xTicks.forEach(t => {
    const tx = mk('text', {x: xs(t), y: g.bz + 71, 'font-size': 37, 'text-anchor': 'middle', 'font-family': FONT}, xa, String(t));
    
    
  });
  const mzl = mk('text', {x: xs(20) - 28, y: g.bz + 71, 'font-size': 37, 'text-anchor': 'end', 'font-family': FONT}, xa, 'm/z');
  
  
  const la = mk('g', {}, grp);
  
  
  const nMinor = (leftTicks.length - 1) * 2 + 1;
  for (let i = 0; i <= nMinor; i++) {
    const v = i * tickStep / 2;
    mk('line', {x1: L - (i % 2 === 0 ? 22 : 11), x2: L, y1: yb(v), y2: yb(v), stroke: '#000', 'stroke-width': 3}, la);
  }
  leftTicks.forEach((t, i) => {
    const tx = mk('text', {x: L - 36, y: yb(i * tickStep) + 13, 'font-size': 37, 'text-anchor': 'end', 'font-family': FONT}, la, t);
    
    
  });
  const lt = mk('text', {x: 0, y: 0, 'font-size': 49, 'text-anchor': 'middle', 'font-family': FONT, transform: 'translate(' + g.ltx + ',' + ((g.bz + g.top) / 2 + 25) + ') rotate(-90)'}, la, 'Relative Intensity');
  
  
  const ra = mk('g', {}, grp);
  
  
  for (let i = 0; i <= 4; i++) {
    const v = i * 0.2;
    mk('line', {x1: R, x2: R + (i % 2 === 0 ? 24 : 12), y1: yi(v), y2: yi(v), stroke: '#000', 'stroke-width': 3}, ra);
  }
  rightTicks.forEach(t => {
    const tx = mk('text', {x: R + 36, y: yi(parseFloat(t)) + 13, 'font-size': 37, 'font-family': FONT}, ra, t);
    
    
  });
  const rt = mk('text', {x: 0, y: 0, 'font-size': 43, 'text-anchor': 'middle', 'font-family': FONT, transform: 'translate(' + g.rtx + ',' + g.rty + ') rotate(90)'}, ra, 'Ion contribution');
  
  
  const pl = mk('g', {}, grp);
  
  
  labels.forEach(m => {
    let mx = 0;
    bars.forEach(b => { if (Math.abs(b[0] - m) <= 2 && b[1] > mx) mx = b[1]; });
    const tx = mk('text', {x: xs(m), y: yb(mx) - 12, 'font-size': 31, 'text-anchor': 'middle', 'font-family': FONT}, pl, String(m));
    
    
  });
  const tt = mk('text', {x: g.tx, y: g.ty, 'font-size': g.tfs, 'font-family': FONT}, grp, g.title);
  
  
}

function drawLegend(lg, scaleText, name) {
  const grp = mk('g', {});
  
  
  const items = [['CH','CH'],['O1','CHO1'],['OT','Other'],['GT','CHOgt1'],['AP','APAHs ' + scaleText],['UN','UnSubPAHs ' + scaleText],['OP','OPAHs ' + scaleText]];
  items.forEach((it, i) => {
    const p = lg[i];
    const e = mk('g', {}, grp);
    
    
    mk('ellipse', {cx: p[0], cy: p[3], rx: 10.5, ry: 11.5, fill: dotColors[it[0]]}, e);
    mk('rect', {x: p[1] - 1.5, y: p[3] - 9, width: 3, height: 18, fill: barColors[it[0]]}, e);
    mk('text', {x: p[2], y: p[3] + 12, 'font-size': 33, 'font-family': FONT}, e, it[1]);
  });
}

drawPanel({x20: 257, x260: 1696, top: 99, bz: 492, bs: 65 / 0.03, iz: 256, is: 125 / 0.8, ltx: 48, rtx: 1840, rty: 238, title: 'Shipping 1', tx: 17, ty: 54, tfs: 47}, s1Bars, s1Points, s1Labels, leftTicks1, 0.03, 'shipping-1');
drawPanel({x20: 258, x260: 1698, top: 679, bz: 1073, bs: 176 / 0.09, iz: 837, is: 125 / 0.8, ltx: 48, rtx: 1842, rty: 818, title: 'Shipping 2', tx: 17, ty: 632, tfs: 47}, s2Bars, s2Points, s2Labels, leftTicks1, 0.03, 'shipping-2');
drawPanel({x20: 262, x260: 1700, top: 1266, bz: 1660, bs: 202 / 0.15, iz: 1424, is: 125 / 0.8, ltx: 50, rtx: 1844, rty: 1405, title: 'Shipping 3', tx: 19, ty: 1219, tfs: 47}, s3Bars, s3Points, s3Labels, leftTicks3, 0.03, 'shipping-3');
drawPanel({x20: 276.5, x260: 1714, top: 1857, bz: 2250, bs: 194 / 0.09, iz: 2014, is: 124 / 0.8, ltx: 66, rtx: 1860, rty: 2005, title: 'HOA', tx: 66, ty: 1807, tfs: 42}, hoaBars, hoaPoints, hoaLabels, leftTicks1, 0.03, 'hoa');

drawLegend([[671,750,798,37],[900,978,1028,37],[1176,1255,1305,37],[1446,1522,1572,37],[577,655,710,77],[942,1021,1070,77],[1389,1467,1516,77]], 'x50', 'shipping-1');
drawLegend([[690,768,819,1796],[919,997,1047,1796],[1197,1274,1324,1796],[1464,1542,1591,1796],[596,673,728,1836],[962,1039,1089,1836],[1408,1486,1535,1836]], 'x25', 'hoa');
</script>
</body></html>
